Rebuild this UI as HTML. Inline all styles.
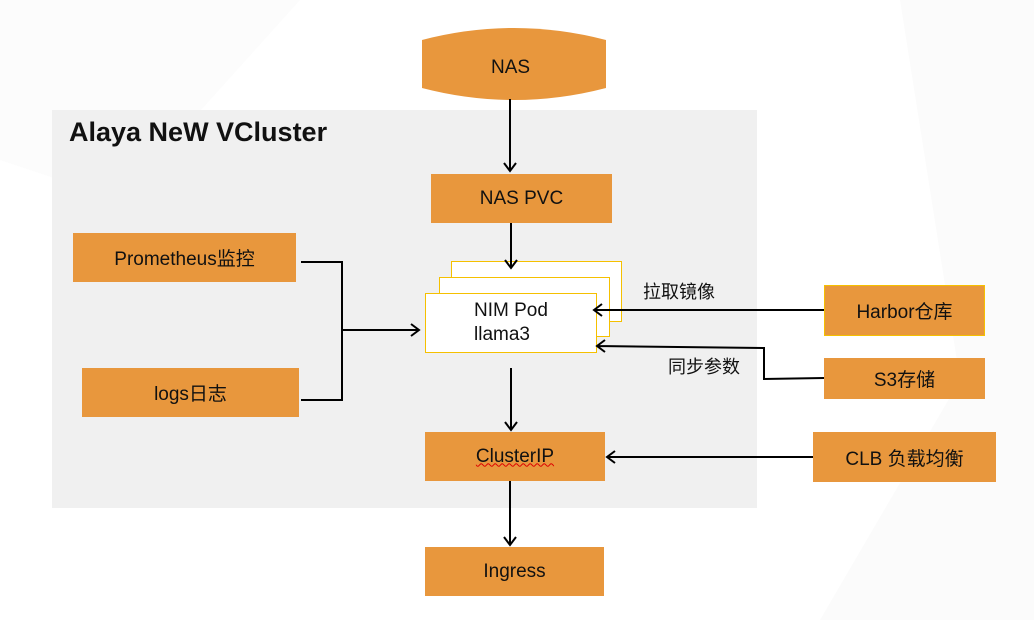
<!DOCTYPE html>
<html><head><meta charset="utf-8"><style>
body{margin:0;width:1034px;height:620px;background:#fff;position:relative;overflow:hidden;font-family:"Liberation Sans","Noto Sans CJK SC",sans-serif;}
.b{position:absolute;background:#e8973d;color:#111;font-size:19px;display:flex;align-items:center;justify-content:center;box-sizing:border-box;}
.w{position:absolute;background:#fff;border:1.5px solid #f5c000;box-sizing:border-box;}
.t{position:absolute;font-size:18px;color:#111;}
svg{position:absolute;left:0;top:0;}
</style></head><body>
<svg width="1034" height="620">
<polygon points="900,0 1034,0 1034,620 820,620 960,380" fill="#fbfbfb"/>
<polygon points="0,0 300,0 120,200 0,160" fill="#fcfcfc"/>
</svg>
<div style="position:absolute;left:52px;top:110px;width:705px;height:398px;background:#f0f0f0"></div>
<div style="position:absolute;left:69px;top:117px;font-size:27px;font-weight:bold;color:#111">Alaya NeW VCluster</div>
<svg width="1034" height="620">
<path d="M422,40 Q514,16 606,40 L606,88 Q514,112 422,88 Z" fill="#e8973d"/>
</svg>
<div class="t" style="left:491px;top:57px;font-size:19px">NAS</div>
<div class="b" style="left:431px;top:174px;width:181px;height:49px">NAS PVC</div>
<div class="b" style="left:73px;top:233px;width:223px;height:49px">Prometheus监控</div>
<div class="b" style="left:82px;top:368px;width:217px;height:49px">logs日志</div>
<div class="w" style="left:451px;top:261px;width:171px;height:61px"></div>
<div class="w" style="left:439px;top:277px;width:171px;height:60px"></div>
<div class="w" style="left:425px;top:293px;width:172px;height:60px;display:flex;flex-direction:column;align-items:center;justify-content:center;font-size:19px;line-height:24px;color:#111">NIM Pod<br>llama3</div>
<div class="b" style="left:425px;top:432px;width:180px;height:49px"><span style="text-decoration:underline wavy #d00;text-decoration-thickness:1px">ClusterIP</span></div>
<div class="b" style="left:425px;top:547px;width:179px;height:49px">Ingress</div>
<div class="b" style="left:824px;top:285px;width:161px;height:51px;border:1.5px solid #f5c000">Harbor仓库</div>
<div class="b" style="left:824px;top:358px;width:161px;height:41px">S3存储</div>
<div class="b" style="left:813px;top:432px;width:183px;height:50px">CLB 负载均衡</div>
<div class="t" style="left:643px;top:278px">拉取镜像</div>
<div class="t" style="left:668px;top:353px">同步参数</div>
<svg width="1034" height="620" fill="none" stroke="#000" stroke-width="2">
<path d="M510,99 V171 M504,163 L510,171 L516,163"/>
<path d="M511,223 V268 M505,260 L511,268 L517,260"/>
<path d="M301,262 H342 V400 H301 M342,330 H419 M411,324 L419,330 L411,336"/>
<path d="M824,310 H594 M602,304 L594,310 L602,316"/>
<path d="M824,378 L764,379 V348 L597,346 M605,340 L597,346 L605,352"/>
<path d="M511,368 V430 M505,422 L511,430 L517,422"/>
<path d="M813,457 H607 M615,451 L607,457 L615,463"/>
<path d="M510,481 V545 M504,537 L510,545 L516,537"/>
</svg>
</body></html>
